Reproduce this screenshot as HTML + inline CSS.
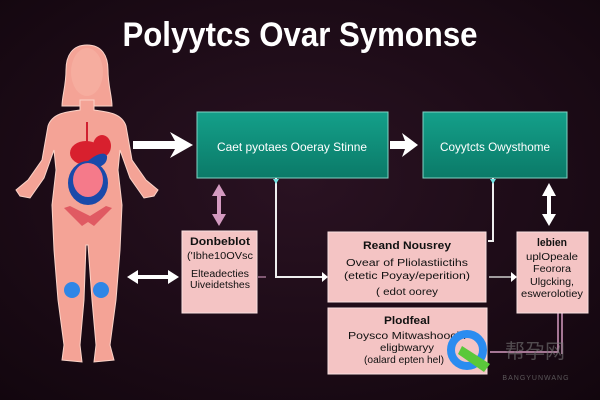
<!DOCTYPE html>
<html><head><meta charset="utf-8"><style>
html,body{margin:0;padding:0;background:#1c0a16;}
svg{display:block}
</style></head><body>
<svg width="600" height="400" viewBox="0 0 600 400" xmlns="http://www.w3.org/2000/svg" font-family="Liberation Sans, sans-serif">
<defs>
<radialGradient id="bg" cx="0.5" cy="0.45" r="0.75">
<stop offset="0" stop-color="#2a1222"/><stop offset="1" stop-color="#12060e"/>
</radialGradient>
<linearGradient id="teal" x1="0" y1="0" x2="0" y2="1">
<stop offset="0" stop-color="#14a08a"/><stop offset="1" stop-color="#0b7a68"/>
</linearGradient>
</defs>
<rect width="600" height="400" fill="url(#bg)"/>
<text x="300" y="46" text-anchor="middle" fill="#fff" font-weight="bold" font-size="34" textLength="355" lengthAdjust="spacingAndGlyphs">Polyytcs Ovar Symonse</text>

<!-- body -->
<g fill="#f4a396" stroke="#fbd3c8" stroke-width="1">
<path d="M87 45 C72 45 66 56 66 70 C66 86 62 96 62 106 L112 106 C112 96 108 86 108 70 C108 56 102 45 87 45Z"/>
<path d="M80 100 L80 110 C64 112 52 114 48 126 L42 160 L28 180 L16 190 L20 196 L30 198 L44 178 L54 150 L56 170 L52 205 L54 250 L58 300 L64 345 L62 360 L82 362 L80 345 L84 300 L86 245 L88 245 L92 300 L96 345 L94 362 L114 360 L110 345 L116 300 L120 250 L122 205 L118 170 L120 150 L130 178 L144 198 L154 196 L158 190 L146 180 L132 160 L126 126 C122 114 110 112 94 110 L94 100Z"/>
</g>
<ellipse cx="87" cy="72" rx="16" ry="24" fill="#f6ad9f"/>
<rect x="86" y="122" width="2" height="26" fill="#d02030"/>
<ellipse cx="102" cy="146" rx="9" ry="11" fill="#d8202e"/>
<ellipse cx="86" cy="153" rx="16" ry="12" fill="#d8202e"/>
<path d="M84 165 C92 156 104 150 107 156 C108 166 96 170 84 167Z" fill="#1a4aaa"/>
<ellipse cx="88" cy="183" rx="20" ry="22" fill="#1a4aaa"/>
<ellipse cx="88" cy="180" rx="15" ry="17" fill="#f57a8a"/>
<path d="M64 208 L82 226 L88 222 L94 226 L112 208 L106 206 L90 216 L70 206Z" fill="#e05a62"/>
<circle cx="72" cy="290" r="8" fill="#2f86e6"/>
<circle cx="101" cy="290" r="8" fill="#2f86e6"/>

<!-- teal boxes -->
<rect x="197" y="112" width="191" height="66" fill="url(#teal)" stroke="#7fd4c4" stroke-width="1"/>
<text x="292" y="151" text-anchor="middle" fill="#fff" font-size="12" textLength="150" lengthAdjust="spacingAndGlyphs">Caet pyotaes Ooeray Stinne</text>
<rect x="423" y="112" width="144" height="66" fill="url(#teal)" stroke="#7fd4c4" stroke-width="1"/>
<text x="495" y="151" text-anchor="middle" fill="#fff" font-size="12" textLength="110" lengthAdjust="spacingAndGlyphs">Coyytcts Owysthome</text>

<!-- big arrows -->
<path d="M133 141 L175 141 L170 132 L193 145 L170 158 L175 149 L133 149Z" fill="#fff"/>
<path d="M390 141 L405 141 L402 133 L418 145 L402 157 L405 149 L390 149Z" fill="#fff"/>

<path d="M219 184 L226 196 L221 196 L221 214 L226 214 L219 226 L212 214 L217 214 L217 196 L212 196Z" fill="#d49ac0"/>
<path d="M549 183 L556 196 L551 196 L551 214 L556 214 L549 226 L542 214 L547 214 L547 196 L542 196Z" fill="#fff"/>
<path d="M127 277 L138 270 L138 275 L168 275 L168 270 L179 277 L168 284 L168 279 L138 279 L138 284Z" fill="#fff"/>

<!-- connectors -->
<path d="M276 178 L276 277 L322 277" stroke="#eee" stroke-width="2" fill="none"/>
<path d="M322 272 L328 277 L322 282Z" fill="#fff"/>
<path d="M273 179 L276 184 L279 179Z" fill="#6fe0e0"/>
<path d="M493 178 L493 241 L488 241" stroke="#eee" stroke-width="2" fill="none"/>
<path d="M490 179 L493 184 L496 179Z" fill="#6fe0e0"/>
<path d="M489 277 L512 277" stroke="#ccc" stroke-width="1.5"/>
<path d="M511 272 L517 277 L511 282Z" fill="#fff"/>
<path d="M258 277 L266 277" stroke="#a07090" stroke-width="1.5"/>
<path d="M558 313 L558 352 L490 352 M562 313 L562 354" stroke="#d49ac0" stroke-width="1.5" fill="none"/>

<!-- pink boxes -->
<g fill="#f4c4c4" stroke="#f8e0e0" stroke-width="1">
<rect x="182" y="231" width="75" height="82"/>
<rect x="328" y="232" width="158" height="70"/>
<rect x="328" y="308" width="159" height="66"/>
<rect x="517" y="232" width="71" height="81"/>
</g>
<g fill="#111" font-size="10" text-anchor="middle">
<text x="220" y="245" font-weight="bold" font-size="11" textLength="60" lengthAdjust="spacingAndGlyphs">Donbeblot</text>
<text x="220" y="259" textLength="66" lengthAdjust="spacingAndGlyphs">('Ibhe10OVsc</text>
<text x="220" y="277" textLength="58" lengthAdjust="spacingAndGlyphs">Elteadecties</text>
<text x="220" y="288" textLength="60" lengthAdjust="spacingAndGlyphs">Uiveidetshes</text>
<text x="407" y="249" font-weight="bold" font-size="11" textLength="88" lengthAdjust="spacingAndGlyphs">Reand Nousrey</text>
<text x="407" y="266" textLength="122" lengthAdjust="spacingAndGlyphs">Ovear of Pliolastiictihs</text>
<text x="407" y="279" textLength="126" lengthAdjust="spacingAndGlyphs">(etetic Poyay/eperition)</text>
<text x="407" y="295" textLength="62" lengthAdjust="spacingAndGlyphs">( edot oorey</text>
<text x="407" y="324" font-weight="bold" font-size="11" textLength="46" lengthAdjust="spacingAndGlyphs">Plodfeal</text>
<text x="407" y="339" textLength="118" lengthAdjust="spacingAndGlyphs">Poysco Mitwashoocirl</text>
<text x="407" y="351" textLength="54" lengthAdjust="spacingAndGlyphs">eligbwaryy</text>
<text x="404" y="363" textLength="80" lengthAdjust="spacingAndGlyphs">(oalard epten hel)</text>
<text x="552" y="246" font-weight="bold" font-size="11" textLength="30" lengthAdjust="spacingAndGlyphs">lebien</text>
<text x="552" y="260" textLength="52" lengthAdjust="spacingAndGlyphs">uplOpeale</text>
<text x="552" y="272" textLength="38" lengthAdjust="spacingAndGlyphs">Feorora</text>
<text x="552" y="285" textLength="44" lengthAdjust="spacingAndGlyphs">Ulgcking,</text>
<text x="552" y="297" textLength="62" lengthAdjust="spacingAndGlyphs">eswerolotiey</text>
</g>

<!-- watermark -->
<circle cx="467" cy="350" r="16" fill="none" stroke="#2a8cf0" stroke-width="8"/>
<path d="M462 346 L490 364 L484 372 L458 354Z" fill="#5ac83a"/>
<text x="535" y="358" text-anchor="middle" fill="#777" font-size="20" font-family="Noto Sans CJK SC, sans-serif" opacity="0.6">帮孕网</text>
<text x="536" y="380" text-anchor="middle" fill="#777" font-size="7" opacity="0.7" letter-spacing="1">BANGYUNWANG</text>
</svg>
</body></html>
